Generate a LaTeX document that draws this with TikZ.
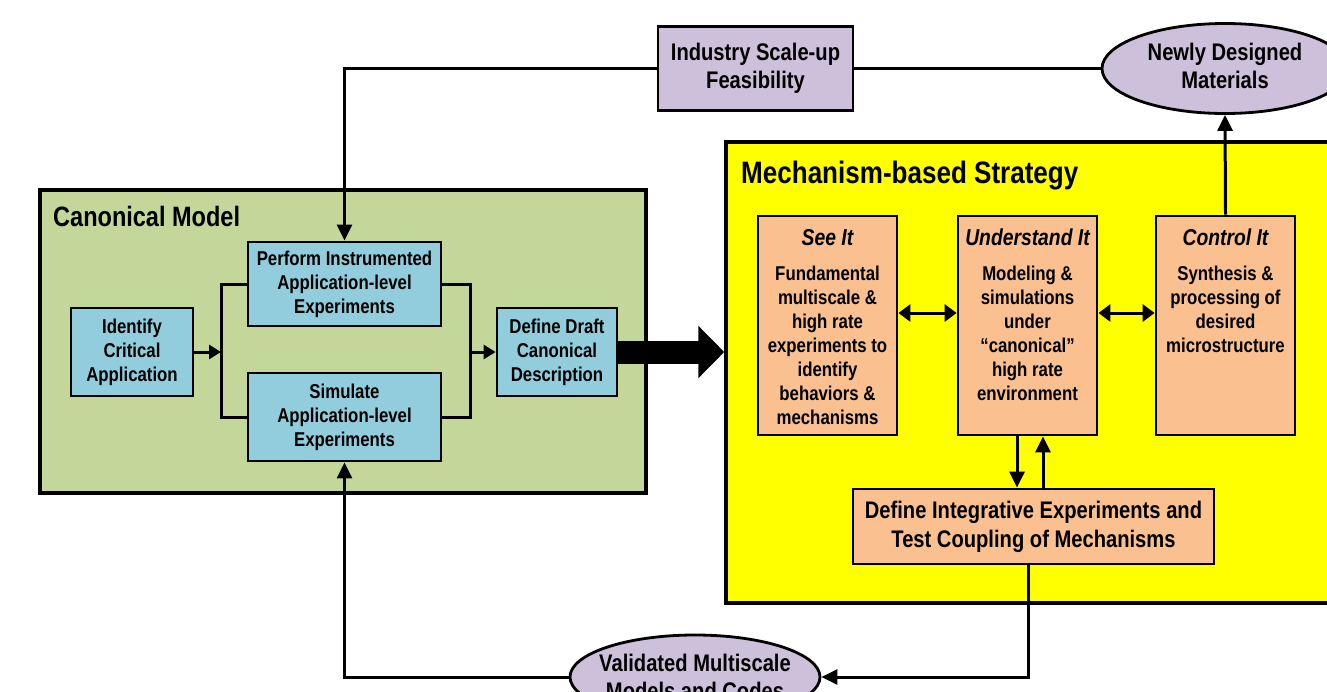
\documentclass[tikz,border=0pt]{standalone}
\usepackage{fontspec}
\setmainfont{Liberation Sans}[FakeStretch=0.84]
\usetikzlibrary{arrows.meta,shapes.geometric}
\definecolor{cgreen}{RGB}{196,215,155}
\definecolor{cblue}{RGB}{146,205,221}
\definecolor{corange}{RGB}{250,192,144}
\definecolor{clav}{RGB}{204,192,218}
\definecolor{cyel}{RGB}{255,255,0}
\begin{document}
\begin{tikzpicture}[x=1pt,y=-1pt,font=\bfseries,
  bigbox/.style={draw,line width=3.5pt,inner sep=0pt},
  box/.style={draw,line width=2.8pt,inner sep=0pt,align=center},
  bluebox/.style={box,fill=cblue,font=\bfseries\fontsize{20}{24}\selectfont},
  orbox/.style={box,fill=corange,minimum width=139pt,minimum height=219pt},
  ortitle/.style={inner sep=0pt,anchor=base,font=\bfseries\itshape\fontsize{23}{28}\selectfont},
  orbody/.style={inner sep=0pt,anchor=north,align=center,font=\bfseries\fontsize{20}{24}\selectfont},
  lavbox/.style={box,fill=clav,font=\bfseries\fontsize{24}{28}\selectfont},
  lavell/.style={ellipse,draw,line width=2.8pt,fill=clav,inner sep=0pt},
  lavtext/.style={inner sep=0pt,align=center,font=\bfseries\fontsize{24}{28}\selectfont},
  conn/.style={line width=3pt},
  arr/.style={conn,-{Triangle[length=16pt,width=15pt]}},
  sarr/.style={conn,-{Triangle[length=12pt,width=14pt]}},
  darr/.style={conn,{Triangle[length=12pt,width=17pt]}-{Triangle[length=12pt,width=17pt]}},
  bigarr/.style={line width=23pt,-{Triangle[length=26pt,width=51pt]}}
]
\path[use as bounding box] (0,0) rectangle (1327,691);
\clip (0,0) rectangle (1327,691);
\fill[white] (0,0) rectangle (1327,691);

% frames
\node[bigbox,fill=cgreen,minimum width=606pt,minimum height=303pt] (canon) at (343,341.5) {};
\node[inner sep=0pt,anchor=base west,font=\bfseries\fontsize{28}{32}\selectfont] (canont) at (53,226) {Canonical Model};
\node[bigbox,fill=cyel,minimum width=620pt,minimum height=461pt] (mech) at (1036,372.5) {};
\node[inner sep=0pt,anchor=base west,font=\bfseries\fontsize{31}{36}\selectfont] (mecht) at (741,183) {Mechanism-based Strategy};

% canonical model boxes
\node[bluebox,minimum width=122pt,minimum height=88pt] (ident) at (132,352) {Identify\\Critical\\Application};
\node[bluebox,minimum width=193pt,minimum height=84pt] (perf) at (344.5,284) {Perform Instrumented\\Application-level\\Experiments};
\node[bluebox,minimum width=193pt,minimum height=88pt] (sim) at (344.5,417) {Simulate\\Application-level\\Experiments};
\node[bluebox,minimum width=120pt,minimum height=88pt] (draft) at (557,352) {Define Draft\\Canonical\\Description};

% strategy boxes
\node[orbox] (see) at (827.5,325.5) {};
\node[orbox] (und) at (1027.5,325.5) {};
\node[orbox] (ctrl) at (1225.5,325.5) {};
\node[ortitle] (seet) at ([yshift=-30.5pt]see.north) {See It};
\node[ortitle] (undt) at ([yshift=-30.5pt]und.north) {Understand It};
\node[ortitle] (ctrlt) at ([yshift=-30.5pt]ctrl.north) {Control It};
\node[orbody] (seeb) at ([yshift=-51.5pt]see.north) {Fundamental\\multiscale \&\\high rate\\experiments to\\identify\\behaviors \&\\mechanisms};
\node[orbody] (undb) at ([yshift=-51.5pt]und.north) {Modeling \&\\simulations\\under\\“canonical”\\high rate\\environment};
\node[orbody] (ctrlb) at ([yshift=-51.5pt]ctrl.north) {Synthesis \&\\processing of\\desired\\microstructure};
\node[box,fill=corange,minimum width=361pt,minimum height=75pt,font=\bfseries\fontsize{24}{29}\selectfont] (integ) at (1033.5,526.5) {Define Integrative Experiments and\\Test Coupling of Mechanisms};

% lavender items
\node[lavbox,minimum width=195pt,minimum height=84pt] (indus) at (755.5,68.5) {Industry Scale-up\\Feasibility};
\node[lavell,minimum width=246pt,minimum height=90pt] (newly) at (1225,68.5) {};
\node[lavtext] (newlyt) at ([yshift=3pt]newly.center) {Newly Designed\\Materials};
\node[lavell,minimum width=250pt,minimum height=84pt] (valid) at (695,677) {};
\node[lavtext] (validt) at (valid.center) {Validated Multiscale\\Models and Codes};

% connectors
\coordinate (bl) at (221,352);
\coordinate (br) at (470,352);
\draw[conn] (perf.west) -| (bl) |- (sim.west);
\draw[conn] (perf.east) -| (br) |- (sim.east);
\draw[sarr] (ident.east) -- (bl);
\draw[sarr] (br) -- (draft.west);
\draw[arr] (indus.west) -| (perf.north);
\draw[conn] (newly.west) -- (indus.east);
\draw[arr] (ctrl.north) -- (newly.south);
\draw[darr] ([yshift=12.5pt]see.east) -- ([yshift=12.5pt]und.west);
\draw[darr] ([yshift=12.5pt]und.east) -- ([yshift=12.5pt]ctrl.west);
\coordinate (ud) at ([xshift=-10.5pt]und.south);
\coordinate (uu) at ([xshift=15.5pt]und.south);
\draw[arr] (ud) -- (ud |- integ.north);
\draw[arr] (uu |- integ.north) -- (uu);
\coordinate (ib) at ([xshift=-5.5pt]integ.south);
\draw[arr] (ib) |- (valid.east);
\draw[arr] (valid.west) -| (sim.south);
\draw[bigarr] (draft.east) -- (draft.east -| mech.west);
\end{tikzpicture}
\end{document}
